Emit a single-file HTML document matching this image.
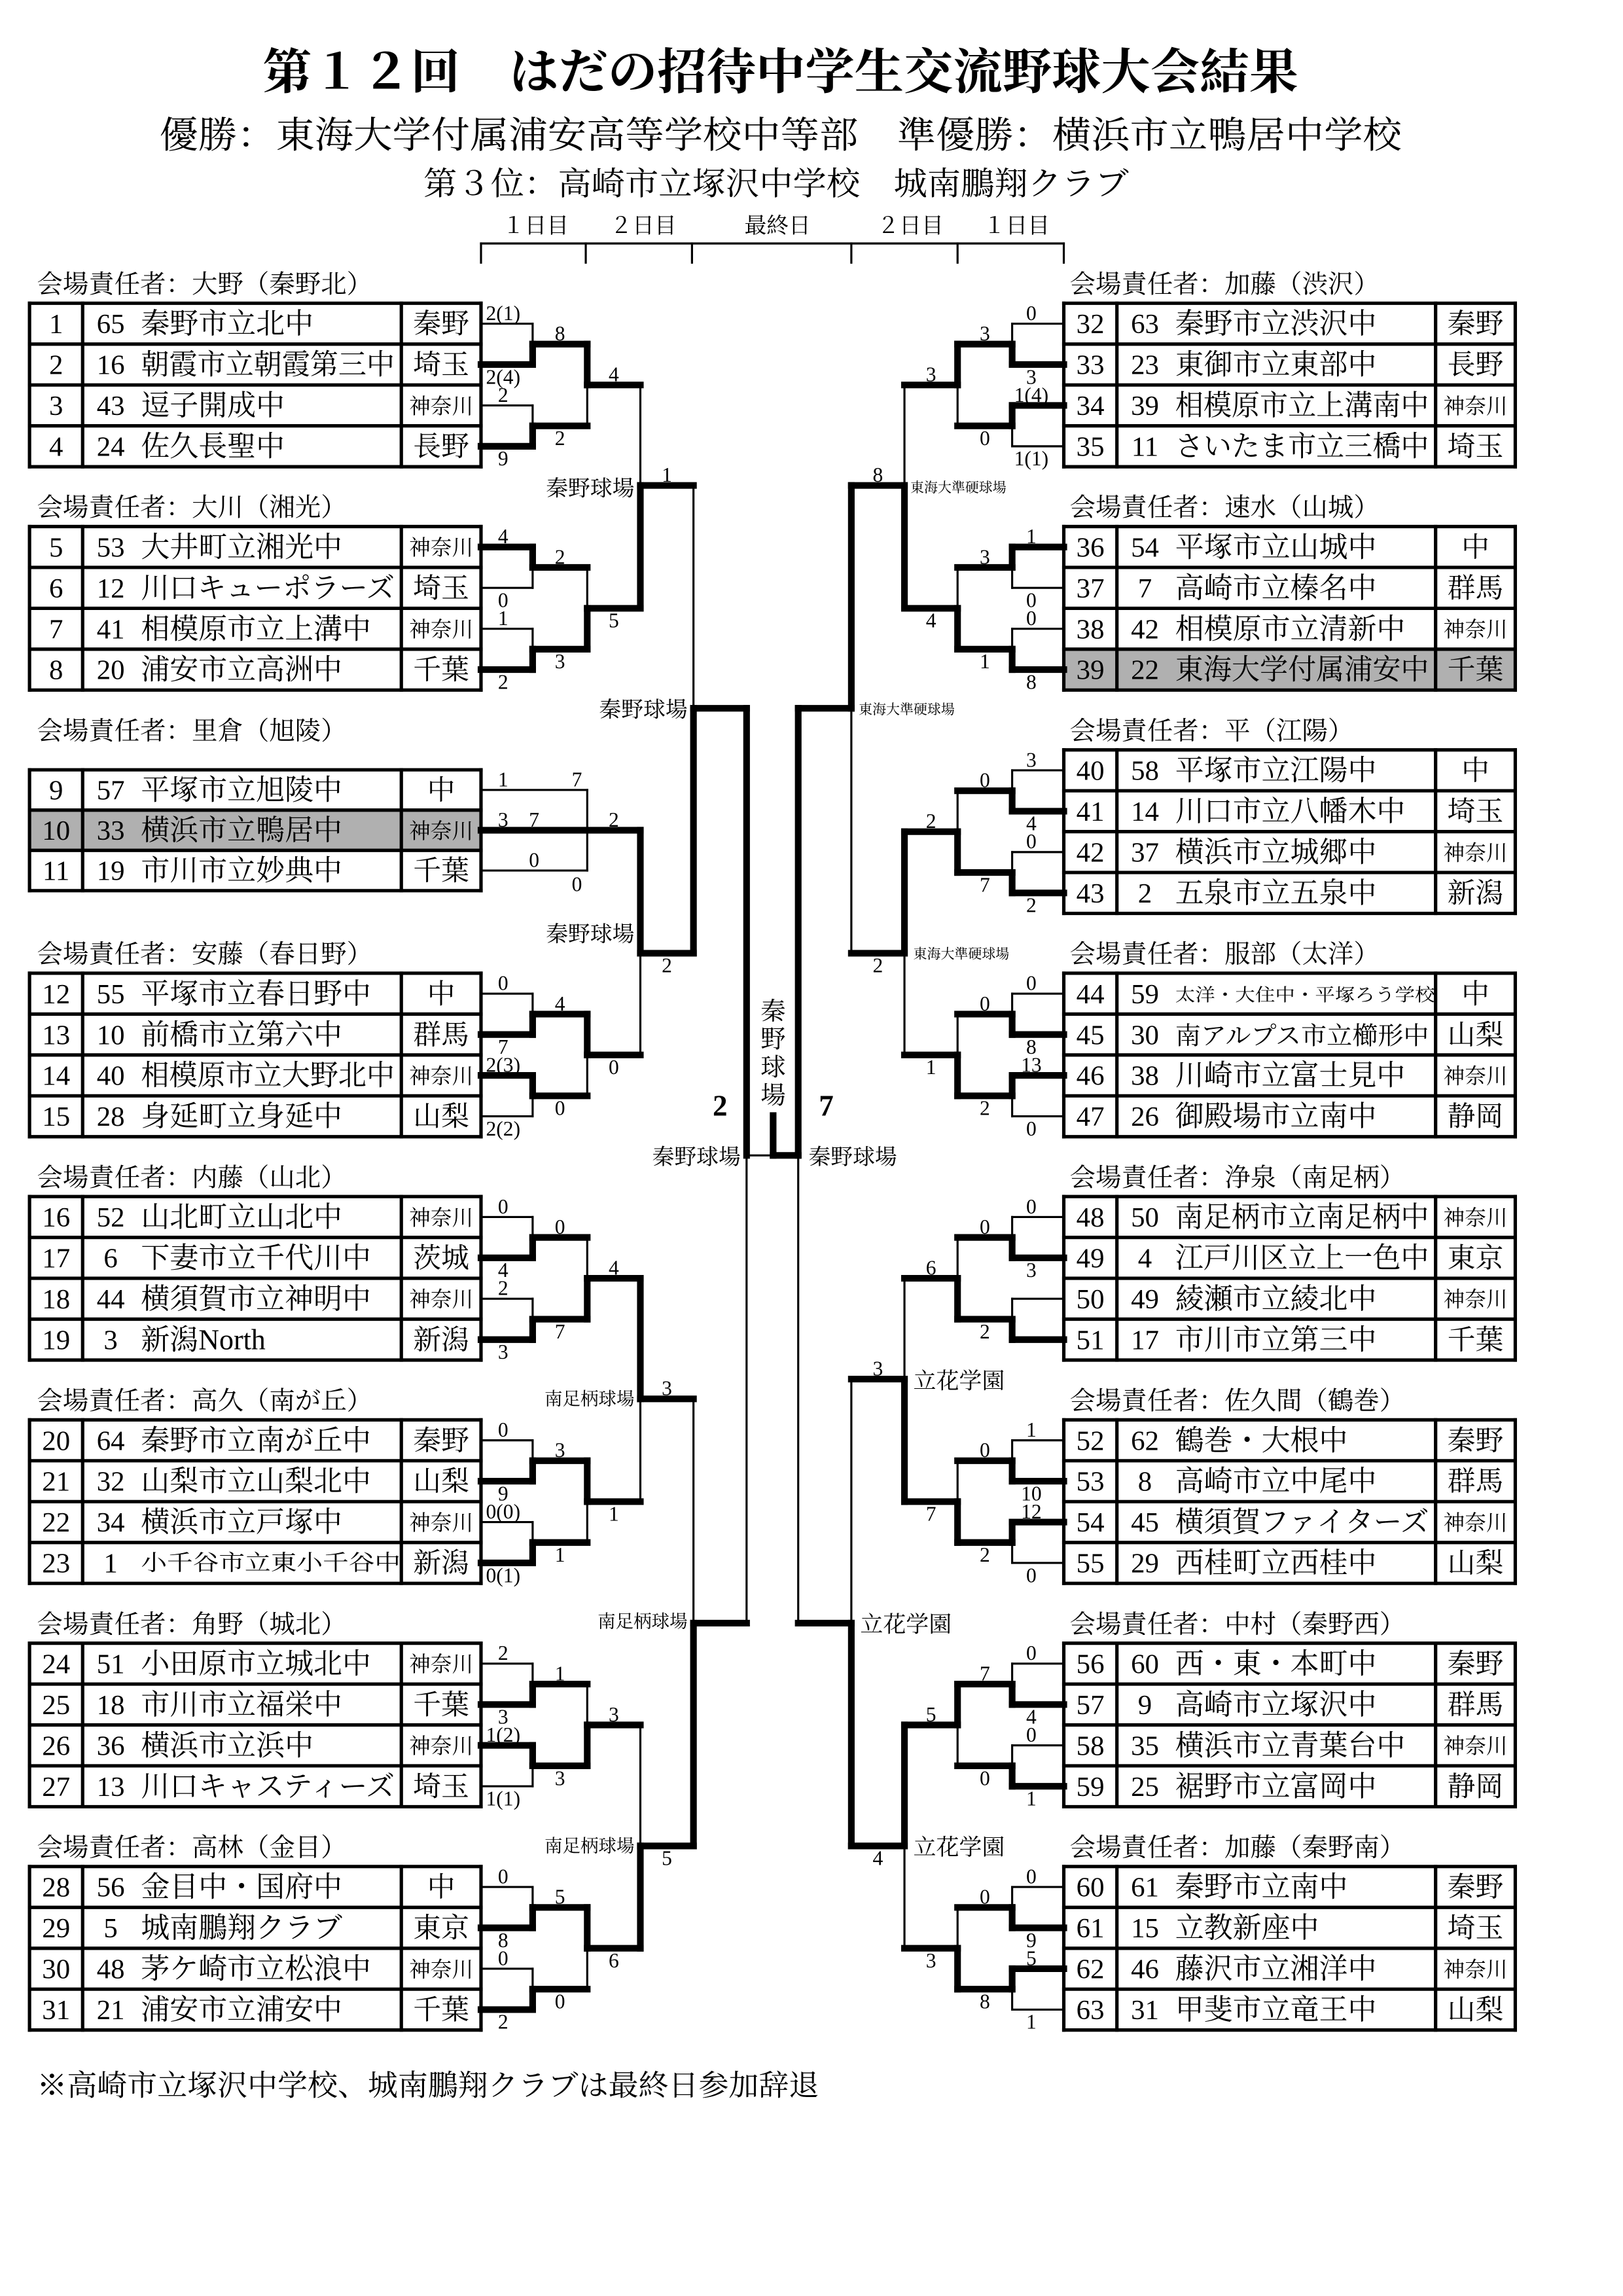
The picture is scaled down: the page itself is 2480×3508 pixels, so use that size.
<!DOCTYPE html>
<html><head><meta charset="utf-8"><style>
html,body{margin:0;padding:0;background:#fff;}
svg{display:block;}
</style></head><body>
<svg id="s" xmlns="http://www.w3.org/2000/svg" width="2480" height="3508" viewBox="0 0 1100 1556">
<rect width="1100" height="1556" fill="#fff"/>
<g font-family="'Liberation Serif','Noto Serif CJK SC','Noto Serif CJK JP',serif" fill="#000">
<text x="529" y="60" font-size="33" font-weight="bold" text-anchor="middle" textLength="702" lengthAdjust="spacingAndGlyphs">第１２回　はだの招待中学生交流野球大会結果</text>
<text x="529" y="100" font-size="25" text-anchor="middle" textLength="842" lengthAdjust="spacingAndGlyphs">優勝：東海大学付属浦安高等学校中等部　準優勝：横浜市立鴨居中学校</text>
<text x="526" y="132" font-size="22" text-anchor="middle" textLength="478" lengthAdjust="spacingAndGlyphs">第３位：高崎市立塚沢中学校　城南鵬翔クラブ</text>
<text x="363" y="158" font-size="15" text-anchor="middle">１日目</text>
<text x="436" y="158" font-size="15" text-anchor="middle">２日目</text>
<text x="527" y="158" font-size="15" text-anchor="middle">最終日</text>
<text x="617" y="158" font-size="15" text-anchor="middle">２日目</text>
<text x="689" y="158" font-size="15" text-anchor="middle">１日目</text>
<text x="25" y="1420" font-size="20" textLength="530" lengthAdjust="spacingAndGlyphs">※高崎市立塚沢中学校、城南鵬翔クラブは最終日参加辞退</text>
</g>
<g id="gen" font-family="'Liberation Serif','Noto Serif CJK SC','Noto Serif CJK JP',serif" fill="#000"></g>
</svg>
<script>
(function(){
var out=[];
function L(x1,y1,x2,y2,w){out.push('<line x1="'+x1+'" y1="'+y1+'" x2="'+x2+'" y2="'+y2+'" stroke="#000" stroke-width="'+w+'" stroke-linecap="square"/>');}
function T(x,y,t,sz,anc,extra){out.push('<text x="'+x+'" y="'+y+'" font-size="'+sz+'"'+(anc?' text-anchor="'+anc+'"':'')+(extra||'')+'>'+t+'</text>');}
var TK=4.5,TN=1.4,SF=14;
L(326,165,721,165,1.4);
[326,397,469,577,649,721].forEach(function(x){L(x,165,x,178,1.4);});
function top(g){return 205.5+151.35*g;}
var left=[
["大野（秦野北）",[[1,65,"秦野市立北中","秦野"],[2,16,"朝霞市立朝霞第三中","埼玉"],[3,43,"逗子開成中","神奈川"],[4,24,"佐久長聖中","長野"]]],
["大川（湘光）",[[5,53,"大井町立湘光中","神奈川"],[6,12,"川口キューポラーズ","埼玉"],[7,41,"相模原市立上溝中","神奈川"],[8,20,"浦安市立高洲中","千葉"]]],
["里倉（旭陵）",[[9,57,"平塚市立旭陵中","中"],[10,33,"横浜市立鴨居中","神奈川",1],[11,19,"市川市立妙典中","千葉"]]],
["安藤（春日野）",[[12,55,"平塚市立春日野中","中"],[13,10,"前橋市立第六中","群馬"],[14,40,"相模原市立大野北中","神奈川"],[15,28,"身延町立身延中","山梨"]]],
["内藤（山北）",[[16,52,"山北町立山北中","神奈川"],[17,6,"下妻市立千代川中","茨城"],[18,44,"横須賀市立神明中","神奈川"],[19,3,"新潟North","新潟"]]],
["高久（南が丘）",[[20,64,"秦野市立南が丘中","秦野"],[21,32,"山梨市立山梨北中","山梨"],[22,34,"横浜市立戸塚中","神奈川"],[23,1,"小千谷市立東小千谷中","新潟",0,15]]],
["角野（城北）",[[24,51,"小田原市立城北中","神奈川"],[25,18,"市川市立福栄中","千葉"],[26,36,"横浜市立浜中","神奈川"],[27,13,"川口キャスティーズ","埼玉"]]],
["高林（金目）",[[28,56,"金目中・国府中","中"],[29,5,"城南鵬翔クラブ","東京"],[30,48,"茅ケ崎市立松浪中","神奈川"],[31,21,"浦安市立浦安中","千葉"]]]];
var right=[
["加藤（渋沢）",[[32,63,"秦野市立渋沢中","秦野"],[33,23,"東御市立東部中","長野"],[34,39,"相模原市立上溝南中","神奈川"],[35,11,"さいたま市立三橋中","埼玉"]]],
["速水（山城）",[[36,54,"平塚市立山城中","中"],[37,7,"高崎市立榛名中","群馬"],[38,42,"相模原市立清新中","神奈川"],[39,22,"東海大学付属浦安中","千葉",1]]],
["平（江陽）",[[40,58,"平塚市立江陽中","中"],[41,14,"川口市立八幡木中","埼玉"],[42,37,"横浜市立城郷中","神奈川"],[43,2,"五泉市立五泉中","新潟"]]],
["服部（太洋）",[[44,59,"太洋・大住中・平塚ろう学校","中",0,12],[45,30,"南アルプス市立櫛形中","山梨",0,17],[46,38,"川崎市立富士見中","神奈川"],[47,26,"御殿場市立南中","静岡"]]],
["浄泉（南足柄）",[[48,50,"南足柄市立南足柄中","神奈川"],[49,4,"江戸川区立上一色中","東京"],[50,49,"綾瀬市立綾北中","神奈川"],[51,17,"市川市立第三中","千葉"]]],
["佐久間（鶴巻）",[[52,62,"鶴巻・大根中","秦野"],[53,8,"高崎市立中尾中","群馬"],[54,45,"横須賀ファイターズ","神奈川"],[55,29,"西桂町立西桂中","山梨"]]],
["中村（秦野西）",[[56,60,"西・東・本町中","秦野"],[57,9,"高崎市立塚沢中","群馬"],[58,35,"横浜市立青葉台中","神奈川"],[59,25,"裾野市立富岡中","静岡"]]],
["加藤（秦野南）",[[60,61,"秦野市立南中","秦野"],[61,15,"立教新座中","埼玉"],[62,46,"藤沢市立湘洋中","神奈川"],[63,31,"甲斐市立竜王中","山梨"]]]];
function table(x0,hx,g,data){
  var t=top(g),rows=data[1],rh=27.7;
  T(hx,t-7,"会場責任者："+data[0],17.5);
  if(rows.length==3){t+=13.5;rh=27.3;}
  var x3=x0+306,d1=x0+36,d2=x0+252;
  rows.forEach(function(r,i){
    var y=t+rh*i, cy=y+rh/2;
    if(r[4])out.push('<rect x="'+x0+'" y="'+y+'" width="306" height="'+rh+'" fill="#b0b0b0"/>');
    T(x0+18,cy+6.5,r[0],19,"middle");
    T(x0+55,cy+6.5,r[1],19,"middle");
    var nm=r[2],sz=r[5]||19.5,ex='';
    var est=nm.length*sz; if(/North/.test(nm))est=90;
    if(est>175||r[5]){ex=' textLength="'+(r[5]&&r[5]<16?176:172)+'" lengthAdjust="spacingAndGlyphs"';}
    T(x0+75.5,cy+(sz>15?6.5:5),nm,sz,null,ex);
    var p=r[3];
    if(p.length==3)T(x0+279,cy+5.5,p,14.5,"middle");
    else T(x0+279,cy+6.5,p,19,"middle");
  });
  var n=rows.length,W=2.3;
  L(x0,t,x3,t,W);L(x0,t+rh*n,x3,t+rh*n,W);
  for(var i=1;i<n;i++)L(x0,t+rh*i,x3,t+rh*i,W);
  L(x0,t,x0,t+rh*n,W);L(d1,t,d1,t+rh*n,W);L(d2,t,d2,t+rh*n,W);L(x3,t,x3,t+rh*n,W);
}
for(var g=0;g<8;g++){table(20,25,g,left[g]);table(721,725,g,right[g]);}
var XL=[326,361,398,434,470,506,524],XR=[721,686,649,613,577,541,524];
function grp(g,A,B,C,sc){var t=top(g);function ly(r){return t+27.7*(r+.5);}
 var a={c:[{y:ly(0),s:A[0],w:A[2]==0},{y:ly(1),s:A[1],w:A[2]==1}],win:A[2],s:C[0]};
 var b={c:[{y:ly(2),s:B[0],w:B[2]==0},{y:ly(3),s:B[1],w:B[2]==1}],win:B[2],s:C[1]};
 return {c:[a,b],win:C[2],s:sc};}
function draw(n,k,X,side,isTop){
  var sx=side<0?341:699;
  if(n.custom){n.custom();return n.y;}
  if(!n.c){
    L(X[0],n.y,X[1],n.y,n.w?TK:TN);
    if(n.s!=="")T(sx,isTop?n.y-2.5:n.y+13,n.s,SF,"middle");
    return n.y;
  }
  var ya=draw(n.c[0],k-1,X,side,true),yb=draw(n.c[1],k-1,X,side,false);
  var y=(n.y!==undefined)?n.y:(ya+yb)/2;
  var yw=n.win?yb:ya, yl=n.win?ya:yb;
  L(X[k],yl,X[k],y,TN);L(X[k],yw,X[k],y,TK);
  L(X[k],y,X[k+1],y,n.thin?TN:TK);
  if(n.s!==undefined&&n.s!==null){var cx=(X[k]+X[k+1])/2;T(cx,isTop?y-2.5:y+13,n.s,SF,"middle");}
  return y;
}
var lg3={y:521.7+27.3*1.5,s:"2",custom:function(){
  var y9=521.7+27.3*.5,y10=521.7+27.3*1.5,y11=521.7+27.3*2.5;
  L(326,y9,398,y9,TN);L(326,y11,398,y11,TN);L(398,y9,398,y11,TN);L(326,y10,434,y10,TK);
  T(341,y9-2.5,"1",SF,"middle");T(391,y9-2.5,"7",SF,"middle");
  T(341,y10-2.5,"3",SF,"middle");T(362,y10-2.5,"7",SF,"middle");T(416,y10-2.5,"2",SF,"middle");
  T(362,y11-2.5,"0",SF,"middle");T(391,y11+14,"0",SF,"middle");}};
var D12={c:[grp(0,["2(1)","2(4)",1],["2","9",1],["8","2",0],"4"),grp(1,["4","0",0],["1","2",1],["2","3",1],"5")],win:1,y:329,s:"1"};
var D34={c:[lg3,grp(3,["0","7",1],["2(3)","2(2)",0],["4","0",0],"0")],win:0,y:646,s:"2"};
var D56={c:[grp(4,["0","4",1],["2","3",1],["0","7",1],"4"),grp(5,["0","9",1],["0(0)","0(1)",1],["3","1",0],"1")],win:0,y:948,s:"3"};
var D78={c:[grp(6,["2","3",1],["1(2)","1(1)",0],["1","3",1],"3"),grp(7,["0","8",1],["0","2",1],["5","0",0],"6")],win:1,y:1251,s:"5"};
var SFL={c:[{c:[D12,D34],win:1,y:480},{c:[D56,D78],win:1,y:1100}],win:0,y:783,thin:true};
draw(SFL,5,XL,-1,true);
var R1={c:[grp(0,["0","3",1],["1(4)","1(1)",0],["3","0",0],"3"),grp(1,["1","0",0],["0","8",1],["3","1",1],"4")],win:1,y:329,s:"8"};
var R2={c:[grp(2,["3","4",1],["0","2",1],["0","7",1],"2"),grp(3,["0","8",1],["13","0",0],["0","2",1],"1")],win:0,y:646,s:"2"};
var R3={c:[grp(4,["0","3",1],["","",1],["0","2",1],"6"),grp(5,["1","10",1],["12","0",0],["0","2",1],"7")],win:1,y:934.6,s:"3"};
var R4={c:[grp(6,["0","4",1],["0","1",1],["7","0",0],"5"),grp(7,["0","9",1],["5","1",0],["0","8",1],"3")],win:0,y:1251,s:"4"};
var SFR={c:[{c:[R1,R2],win:0,y:480},{c:[R3,R4],win:1,y:1100}],win:0,y:783};
draw(SFR,5,XR,1,true);
L(524,756,524,783,TK);
T(488,756,"2",20,"middle",' font-weight="bold"');
T(560,756,"7",20,"middle",' font-weight="bold"');
T(430,336,"秦野球場",15,"end");T(466,486,"秦野球場",15,"end");T(430,638,"秦野球場",15,"end");
T(502,789,"秦野球場",15,"end");T(548,789,"秦野球場",15);
["秦","野","球","場"].forEach(function(c,i){T(524,691+19*i,c,17,"middle");});
T(430,952,"南足柄球場",12.2,"end");T(466,1103,"南足柄球場",12.2,"end");T(430,1255,"南足柄球場",12.2,"end");
T(617,333.5,"東海大準硬球場",9.3);T(582,484,"東海大準硬球場",9.3);T(619,649.5,"東海大準硬球場",9.3);
T(619,941,"立花学園",15.5);T(583,1106,"立花学園",15.5);T(619,1257,"立花学園",15.5);
document.getElementById("gen").innerHTML=out.join("");
})();
</script>
</body></html>
